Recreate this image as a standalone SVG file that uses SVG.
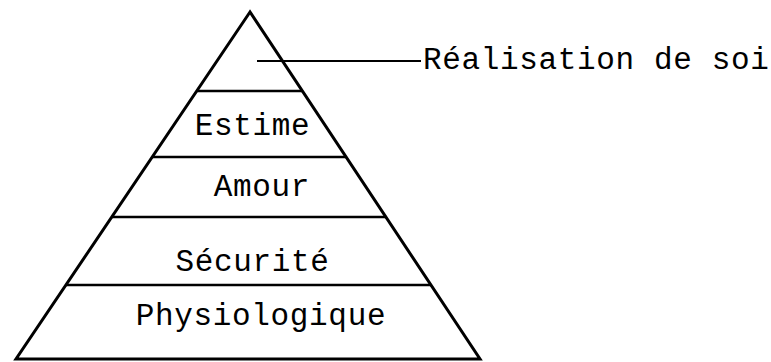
<svg xmlns="http://www.w3.org/2000/svg" width="771" height="362" viewBox="0 0 771 362">
<style>
.lbl{font-family:"Liberation Mono","Courier New",monospace;font-size:31px;fill:#000;letter-spacing:0.65px}
.edge{fill:none;stroke:#000;stroke-width:3;stroke-linejoin:miter}
.div{stroke:#000;stroke-width:2.5}
.lead{stroke:#000;stroke-width:2}
</style>
<rect width="771" height="362" fill="#fff"/>
<g id="pyramid">
<polygon class="edge" points="250,12 16,359 480,359"/>
</g>
<g id="connectors">
<line class="div" x1="197" y1="91" x2="302" y2="91"/>
<line class="div" x1="152" y1="157" x2="346" y2="157"/>
<line class="div" x1="112" y1="217" x2="386" y2="217"/>
<line class="div" x1="66" y1="285" x2="431" y2="285"/>
<line class="lead" x1="257" y1="61" x2="421" y2="61"/>
</g>
<g id="realisation"><text class="lbl" x="423" y="69">Réalisation de soi</text></g>
<g id="estime"><text class="lbl" x="252.5" y="135" text-anchor="middle">Estime</text></g>
<g id="amour"><text class="lbl" x="262" y="196" text-anchor="middle">Amour</text></g>
<g id="securite"><text class="lbl" x="252.5" y="271" text-anchor="middle">Sécurité</text></g>
<g id="physiologique"><text class="lbl" x="261" y="325" text-anchor="middle">Physiologique</text></g>
</svg>
